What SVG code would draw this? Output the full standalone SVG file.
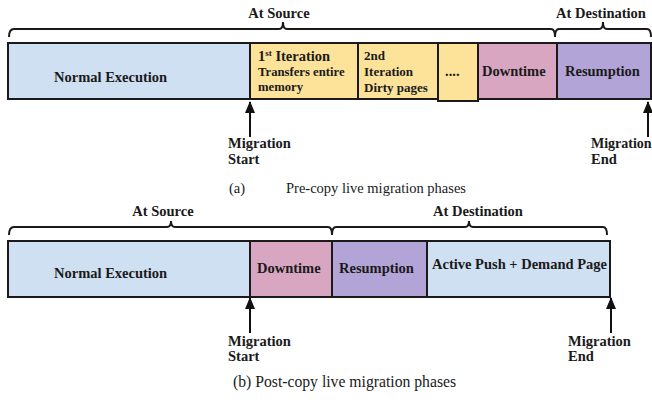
<svg xmlns="http://www.w3.org/2000/svg" width="652" height="402" viewBox="0 0 652 402">
<defs>
<style>
.box{stroke:#1a1a1a;stroke-width:2}
.blue{fill:#cfe0f2}.yel{fill:#fde39a}.pink{fill:#d8a6c1}.purp{fill:#b3a4d7}
.t{font-family:"Liberation Serif","Times New Roman",serif;font-weight:bold;fill:#1a1a1a;font-size:14.5px}
.cap{font-family:"Liberation Serif","Times New Roman",serif;fill:#1a1a1a;font-size:14.5px}
.brace{fill:none;stroke:#1a1a1a;stroke-width:2}
.arr{stroke:#111;stroke-width:2;fill:none}
</style>
<marker id="ah" viewBox="0 0 12 10" refX="11" refY="5" markerWidth="12" markerHeight="10" markerUnits="userSpaceOnUse" orient="auto">
<path d="M0,0 L12,5 L0,10 Z" fill="#111"/>
</marker>
</defs>

<!-- (a) Pre-copy -->
<g id="a-braces">
<path class="brace" d="M9,37 Q9,29 14,29 L279,29 Q283,29 283,22 Q283,29 287,29 L551,29 Q555,29 555,37"/>
<text class="t" x="279" y="18" text-anchor="middle">At Source</text>
<path class="brace" d="M555,37 Q555,29 559,29 L599,29 Q603,29 603,22 Q603,29 607,29 L647,29 Q651,29 651,37"/>
<text class="t" x="601" y="18" text-anchor="middle">At Destination</text>
</g>
<g id="a-normal"><rect class="box blue" x="8" y="43" width="242" height="56"/><text class="t" x="54" y="82">Normal Execution</text></g>
<g id="a-iter1"><rect class="box yel" x="250" y="43" width="108" height="56"/>
<text class="t" x="258" y="61" style="font-size:14.5px">1<tspan dy="-5" style="font-size:9px">st</tspan><tspan dy="5"> Iteration</tspan></text>
<text class="t" x="258" y="76" style="font-size:12.7px">Transfers entire</text>
<text class="t" x="258" y="91" style="font-size:12.7px">memory</text></g>
<g id="a-iter2"><rect class="box yel" x="358" y="43" width="80" height="56"/>
<text class="t" x="364" y="60" style="font-size:13px">2nd</text>
<text class="t" x="364" y="76" style="font-size:13px">Iteration</text>
<text class="t" x="364" y="92" style="font-size:13px">Dirty pages</text></g>
<g id="a-dots"><rect class="box yel" x="438" y="43" width="40" height="58"/><text class="t" x="445" y="76">....</text></g>
<g id="a-down"><rect class="box pink" x="478" y="43" width="79" height="56"/><text class="t" x="482" y="76">Downtime</text></g>
<g id="a-resume"><rect class="box purp" x="557" y="43" width="94" height="56"/><text class="t" x="565" y="76">Resumption</text></g>
<g id="a-connectors">
<path class="arr" d="M250,137 L250,102" marker-end="url(#ah)"/>
<path class="arr" d="M648,137 L648,102" marker-end="url(#ah)"/>
</g>
<g id="a-labels">
<text class="t" x="228" y="148">Migration</text><text class="t" x="228" y="164">Start</text>
<text class="t" x="591" y="148" style="font-size:14px">Migration</text><text class="t" x="591" y="164">End</text>
<text class="cap" x="229" y="193">(a)</text><text class="cap" x="286" y="193">Pre-copy live migration phases</text>
</g>

<!-- (b) Post-copy -->
<g id="b-braces">
<path class="brace" d="M9,235 Q9,227 14,227 L167,227 Q171,227 171,221 Q171,227 175,227 L328,227 Q332,227 332,235"/>
<text class="t" x="163" y="216" text-anchor="middle">At Source</text>
<path class="brace" d="M332,235 Q332,227 336,227 L465,227 Q469,227 469,221 Q469,227 473,227 L603,227 Q607,227 607,235"/>
<text class="t" x="478" y="216" text-anchor="middle">At Destination</text>
</g>
<g id="b-normal"><rect class="box blue" x="8" y="241" width="242" height="56"/><text class="t" x="54" y="278">Normal Execution</text></g>
<g id="b-down"><rect class="box pink" x="250" y="241" width="82" height="56"/><text class="t" x="257" y="273">Downtime</text></g>
<g id="b-resume"><rect class="box purp" x="332" y="241" width="95" height="56"/><text class="t" x="339" y="273">Resumption</text></g>
<g id="b-active"><rect class="box blue" x="427" y="241" width="183" height="56"/><text class="t" x="432" y="269">Active Push + Demand Page</text></g>
<g id="b-connectors">
<path class="arr" d="M250,333 L250,298" marker-end="url(#ah)"/>
<path class="arr" d="M611,333 L611,298" marker-end="url(#ah)"/>
</g>
<g id="b-labels">
<text class="t" x="228" y="346">Migration</text><text class="t" x="228" y="361">Start</text>
<text class="t" x="568" y="346">Migration</text><text class="t" x="568" y="361">End</text>
<text class="cap" x="233" y="387" style="font-size:15.7px">(b) Post-copy live migration phases</text>
</g>
</svg>
